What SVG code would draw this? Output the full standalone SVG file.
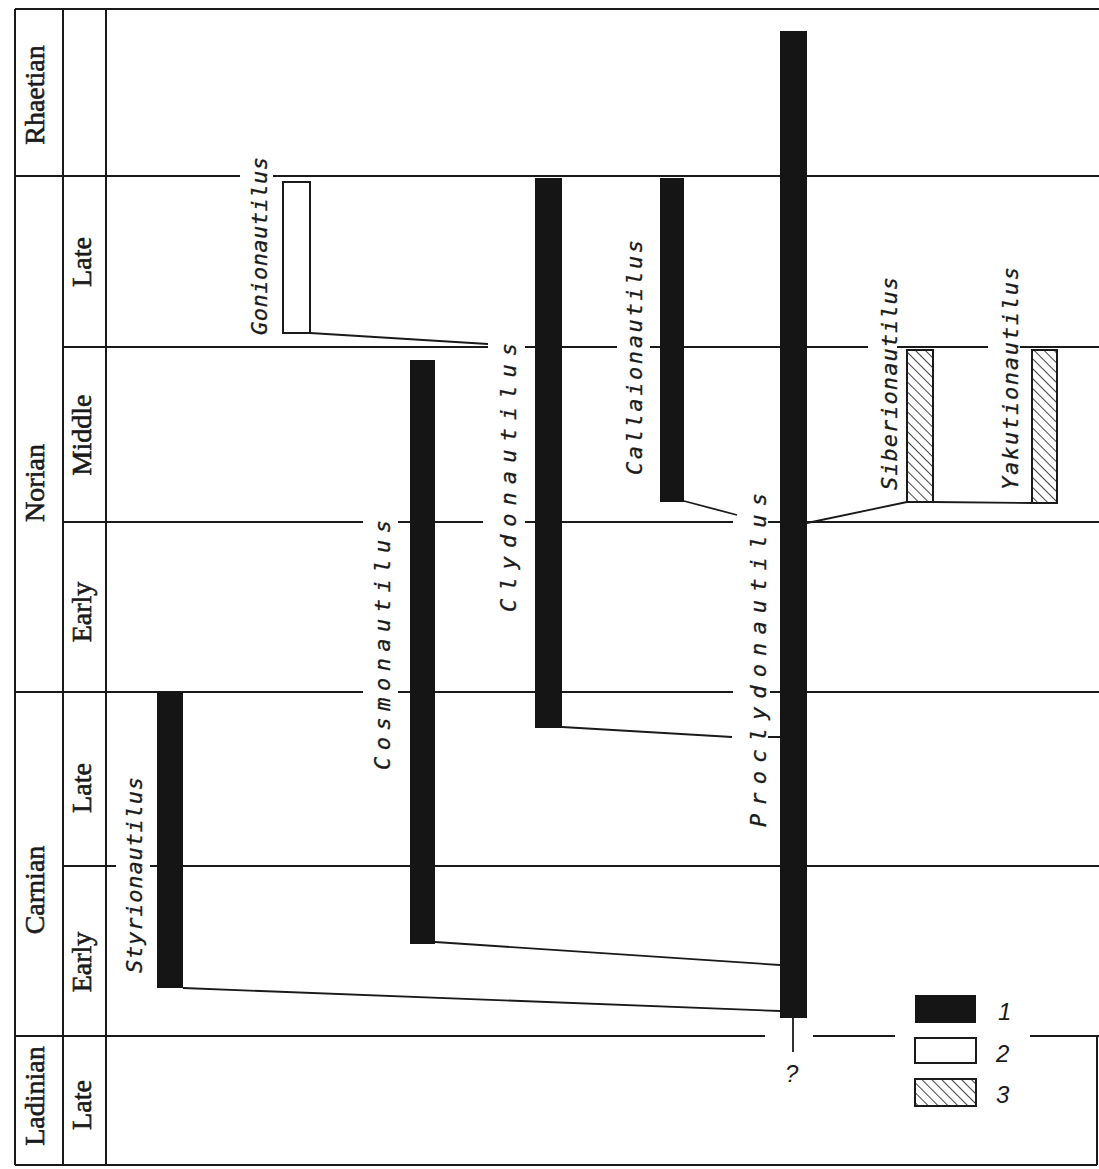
<svg xmlns="http://www.w3.org/2000/svg" width="1099" height="1169" viewBox="0 0 1099 1169">
<style>
.frame{stroke:#1a1a1a;stroke-width:2;fill:none}
.conn{stroke:#1a1a1a;stroke-width:1.8;fill:none}
.bar{fill:#151515}
.open{fill:#fff;stroke:#1a1a1a;stroke-width:2}
.hatch{fill:url(#hatch);stroke:#1a1a1a;stroke-width:2}
.stage{font-family:"Liberation Serif","Times New Roman",serif;font-size:28px;fill:#1a1a1a;stroke:#1a1a1a;stroke-width:0.6;text-anchor:middle}
.taxon{font-family:"DejaVu Sans Mono",monospace;font-style:italic;font-size:22px;fill:#1a1a1a;stroke:#1a1a1a;stroke-width:0.3}
.leg{font-family:"Liberation Sans",Arial,sans-serif;font-style:italic;font-size:24px;fill:#1a1a1a}
</style>
<defs>
<pattern id="hatch" patternUnits="userSpaceOnUse" width="7" height="7" patternTransform="rotate(-45)">
<rect width="7" height="7" fill="#fff"/>
<line x1="0" y1="0" x2="0" y2="7" stroke="#1a1a1a" stroke-width="1.6"/>
</pattern>
</defs>
<rect width="1099" height="1169" fill="#fff"/>
<g id="grid" class="frame">
<path d="M15,9H1099 M15,1165H1097 M15,9V1165 M63,9V1165 M106,9V1165 M1097,1036V1165"/>
<path d="M15,176H240 M273,176H1099"/>
<path d="M63,347H488 M525,347H617 M650,347H868 M897,347H988 M1020,347H1099"/>
<path d="M63,522H363 M398,522H483 M525,522H733 M768,522H1099"/>
<path d="M15,692H363 M398,692H733 M770,692H1099"/>
<path d="M63,866H116 M150,866H1099"/>
<path d="M15,1036H765 M813,1036H895 M1030,1036H1099"/>
</g>
<g id="scale-labels">
<text class="stage" transform="translate(44,95) rotate(-90)">Rhaetian</text>
<text class="stage" transform="translate(44,483) rotate(-90)">Norian</text>
<text class="stage" transform="translate(44,890) rotate(-90)">Carnian</text>
<text class="stage" transform="translate(44,1096) rotate(-90)">Ladinian</text>
<text class="stage" transform="translate(91,262) rotate(-90)">Late</text>
<text class="stage" transform="translate(91,435) rotate(-90)">Middle</text>
<text class="stage" transform="translate(91,612) rotate(-90)">Early</text>
<text class="stage" transform="translate(91,788) rotate(-90)">Late</text>
<text class="stage" transform="translate(91,962) rotate(-90)">Early</text>
<text class="stage" transform="translate(91,1105) rotate(-90)">Late</text>
</g>
<g id="connectors" class="conn">
<path d="M310,333L488,344"/>
<path d="M183,988L780,1011"/>
<path d="M435,942L780,965"/>
<path d="M562,727L732,737 M768,737H780"/>
<path d="M684,501L737,515"/>
<path d="M907,502L807,523"/>
<path d="M933,502L1032,503"/>
<path d="M793,1018V1052"/>
</g>
<g id="proclydonautilus">
<rect class="bar" x="780" y="31" width="27" height="987"/>
<text class="taxon" transform="translate(766,827) rotate(-90)" textLength="334" lengthAdjust="spacing">Proclydonautilus</text>
<text class="leg" x="785" y="1082">?</text>
</g>
<g id="styrionautilus">
<rect class="bar" x="157" y="692" width="26" height="296"/>
<text class="taxon" transform="translate(142,973) rotate(-90)" textLength="196" lengthAdjust="spacing">Styrionautilus</text>
</g>
<g id="cosmonautilus">
<rect class="bar" x="410" y="360" width="25" height="584"/>
<text class="taxon" transform="translate(390,770) rotate(-90)" textLength="250" lengthAdjust="spacing">Cosmonautilus</text>
</g>
<g id="clydonautilus">
<rect class="bar" x="535" y="178" width="27" height="550"/>
<text class="taxon" transform="translate(516,612) rotate(-90)" textLength="269" lengthAdjust="spacing">Clydonautilus</text>
</g>
<g id="gonionautilus">
<rect class="open" x="283" y="182" width="27" height="151"/>
<text class="taxon" transform="translate(267,335) rotate(-90)" textLength="178" lengthAdjust="spacing">Gonionautilus</text>
</g>
<g id="callaionautilus">
<rect class="bar" x="660" y="178" width="24" height="324"/>
<text class="taxon" transform="translate(642,475) rotate(-90)" textLength="235" lengthAdjust="spacing">Callaionautilus</text>
</g>
<g id="siberionautilus">
<rect class="hatch" x="907" y="350" width="26" height="152"/>
<text class="taxon" transform="translate(897,490) rotate(-90)" textLength="213" lengthAdjust="spacing">Siberionautilus</text>
</g>
<g id="yakutionautilus">
<rect class="hatch" x="1032" y="350" width="25" height="153"/>
<text class="taxon" transform="translate(1018,490) rotate(-90)" textLength="223" lengthAdjust="spacing">Yakutionautilus</text>
</g>
<g id="legend">
<rect class="bar" x="915" y="995" width="61" height="28"/>
<rect class="open" x="915" y="1038" width="61" height="25"/>
<rect class="hatch" x="915" y="1079" width="61" height="27"/>
<text class="leg" x="998" y="1020">1</text>
<text class="leg" x="996" y="1062">2</text>
<text class="leg" x="996" y="1103">3</text>
</g>
</svg>
